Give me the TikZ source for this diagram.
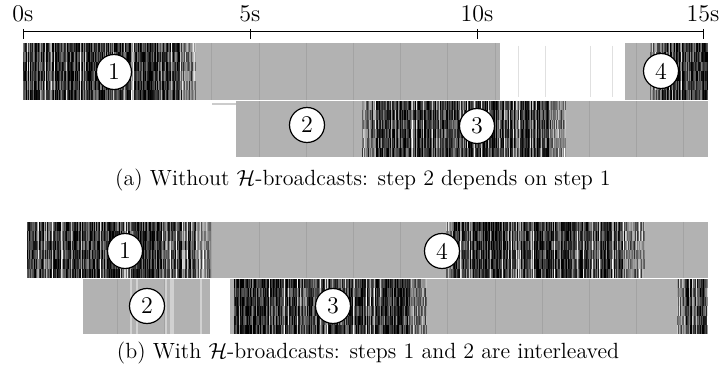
\documentclass[tikz,border=0pt]{standalone}
\usepackage{amsmath}
\newcommand\grayblk[4]{%
  \fill[black!30] (#1,#3) rectangle (#2,#4);
  \begin{scope}
    \clip (#1,#3) rectangle (#2,#4);
    \foreach \k in {0,...,14}{\draw[black!36,line width=0.35pt] ({23+47.2*\k},#3) -- ({23+47.2*\k},#4);}
  \end{scope}}
\newcommand\noiseblk[6]{%
  \foreach \xx in {#1,...,#2}{%
    \pgfmathsetmacro\bb{rnd<0.12 ? 18+rnd*25 : #5+rnd*(#6-#5)}%
    \foreach \j in {0,...,5}{%
      \pgfmathsetmacro\ss{max(0,min(100,\bb+(rnd-0.5)*50))}%
      \fill[black!\ss] (\xx,{#3+(#4-#3)*\j/6}) rectangle (\xx+1,{#3+(#4-#3)*(\j+1)/6});
    }}}
\begin{document}
\begin{tikzpicture}[x=0.5pt,y=-0.5pt]
\tikzset{
  numcirc/.style={circle,draw=black,line width=0.6pt,fill=white,minimum size=17.5pt,inner sep=0pt,font=\large},
  ticklab/.style={anchor=base,inner sep=0pt,font=\large},
  captxt/.style={anchor=base,inner sep=0pt,font=\fontsize{11}{13}\selectfont},
  axisline/.style={line width=0.5pt}
}
\useasboundingbox (0,0) rectangle (724,374);
\pgfmathsetseed{4242}
% ---------- axis
\coordinate (ax0) at (23,32);
\coordinate (ax15) at (703,32);
\draw[axisline] (ax0) -- (ax15);
\foreach \t/\x in {0/23,5/250,10/477,15/703}{
  \draw[axisline] (\x,29) -- (\x,39);
  \node[ticklab] (t\t) at (\x,22) {\t s};
}
% ---------- row a1
\grayblk{23}{708}{43}{100}
\fill[white] (500,43) rectangle (625,100);
\foreach \x in {518,545,590,612}{\draw[black!12,line width=0.3pt] (\x,46) -- (\x,97);}
\noiseblk{23}{182}{43}{100}{65}{100}
\noiseblk{183}{195}{43}{100}{35}{70}
\noiseblk{650}{661}{43}{100}{35}{70}
\noiseblk{662}{707}{43}{100}{60}{100}
% ---------- row a2
\fill[black!20] (212,103) rectangle (236,105);
\grayblk{236}{708}{101}{157}
\noiseblk{362}{374}{101}{157}{35}{70}
\noiseblk{375}{548}{101}{157}{60}{100}
\noiseblk{549}{565}{101}{157}{35}{65}
% ---------- row b1
\grayblk{27}{708}{222}{278}
\noiseblk{27}{195}{222}{278}{60}{100}
\noiseblk{196}{210}{222}{278}{35}{70}
\noiseblk{446}{452}{222}{278}{40}{75}
\noiseblk{453}{624}{222}{278}{60}{100}
\noiseblk{625}{644}{222}{278}{35}{65}
% ---------- row b2
\grayblk{83}{708}{279}{334}
\foreach \x in {130,136,165,170,172,200}{\fill[black!18] (\x,279) rectangle (\x+2,334);}
\fill[white] (210,279) rectangle (230,334);
\noiseblk{234}{409}{279}{334}{60}{100}
\noiseblk{410}{426}{279}{334}{35}{65}
\noiseblk{677}{684}{279}{334}{35}{65}
\noiseblk{685}{707}{279}{334}{60}{100}
% ---------- step circles
\node[numcirc] (a1) at (114,72) {1};
\node[numcirc] (a2) at (307,125) {2};
\node[numcirc] (a3) at (477,126) {3};
\node[numcirc] (a4) at (661,71) {4};
\node[numcirc] (b1) at (125,251) {1};
\node[numcirc] (b2) at (147,306) {2};
\node[numcirc] (b3) at (333,306) {3};
\node[numcirc] (b4) at (442,251) {4};
% ---------- captions
\node[captxt] (capa) at (363,186) {(a) Without $\mathcal{H}$-broadcasts: step 2 depends on step 1};
\node[captxt] (capb) at (368,358) {(b) With $\mathcal{H}$-broadcasts: steps 1 and 2 are interleaved};
\end{tikzpicture}
\end{document}
